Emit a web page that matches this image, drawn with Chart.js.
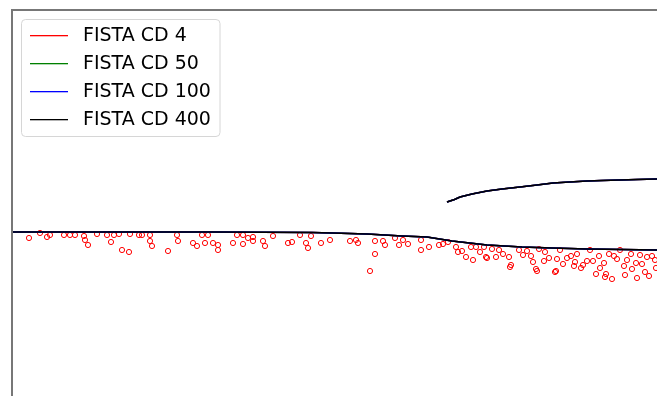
<!DOCTYPE html>
<html>
<head>
<meta charset="utf-8">
<script src="https://cdn.jsdelivr.net/npm/chart.js@4"></script>
<style>
  body { margin: 0; background: #fff; }
  canvas { display: block; }
</style>
</head>
<body>
<canvas id="fistaChart" width="657" height="396"></canvas>
<script>
// solver runs, one entry per number of CD iterations
const seriesNames = ['FISTA CD 4', 'FISTA CD 50', 'FISTA CD 100', 'FISTA CD 400'];
const seriesColors = ['#ff0000', '#008000', '#0000ff', '#000000'];

// lower branch of the solution path
const lowerX = [0, 20, 40, 60, 64, 71, 78, 83, 88, 95, 102, 108, 115, 122, 129];
const lowerY = [0, 0, 0, -0.05, -0.1, -0.2, -0.4, -0.5, -0.9, -1.3, -1.5, -1.6, -1.7, -1.75, -1.8];

// upper branch, appears past the split point
const upperX = [87, 88.5, 89.6, 92, 95, 98, 101.6, 105, 108.2, 111.5, 115, 118, 121.6, 125, 129];
const upperY = [3.0, 3.25, 3.5, 3.8, 4.1, 4.3, 4.5, 4.7, 4.9, 5.0, 5.1, 5.15, 5.2, 5.25, 5.3];

// small closed loops left by the 4-iteration run
const loopX = [3.4, 5.6, 7.0, 7.6, 10.4, 11.6, 12.6, 14.4, 14.6, 15.2, 17.0, 19.0, 19.8, 20.4, 21.4, 22.0, 23.4, 23.6, 25.4,
  26.0, 27.6, 27.6, 28.0, 31.2, 33.0, 33.2, 36.2, 37.0, 38.0, 38.6, 39.2, 40.2, 41.2, 41.2, 44.2, 45.0, 46.2, 46.2, 47.2, 48.2, 48.2, 50.2, 50.6,
  52.2, 55.2, 56.0, 57.6, 58.8, 59.2, 59.8, 61.8, 63.6, 67.6, 68.8, 69.2, 72.6, 72.6, 74.2, 74.6, 71.6, 76.6,
  77.4, 78.2, 79.2, 81.8, 81.8, 83.4, 85.4, 87.2, 88.8, 89.2, 90.8, 92.2, 91.8, 92.8, 94.8, 94.4, 96.8, 97.4, 98.2, 99.8, 99.4, 101.4,
  103.0, 103.8, 104.8, 105.4, 106.4, 108.8, 109.0, 111.0, 112.4, 113.0, 115.0, 116.8, 117.4, 118.4, 118.8, 120.0, 121.0, 122.4, 124.0, 125.0,
  126.0, 127.4, 128.0, 128.8, 120.4, 123.8, 113.8, 95.0, 99.6, 105.0, 108.6, 118.6,
  106.6, 109.6, 115.6, 121.6, 125.6, 117.6, 122.6, 112.6, 126.6, 128.6,
  102.2, 104.2, 107.4, 110.2, 111.8, 114.2, 116.2, 119.4, 123.0, 124.8, 127.0, 86.2, 90.0, 93.6, 96.0];
const loopY = [-0.6, -0.1, -0.5, -0.3, -0.3, -0.3, -0.3, -0.4, -0.8, -1.3, -0.2, -0.3, -1.0, -0.3, -0.2, -1.8, -2.0, -0.2, -0.3,
  -0.3, -0.3, -0.9, -1.4, -1.9, -0.3, -0.9, -1.1, -1.4, -0.3, -1.1, -0.3, -1.1, -1.3, -1.8, -1.1, -0.3, -0.3, -1.2, -0.6, -0.5, -0.9, -0.9, -1.4,
  -0.4, -1.1, -1.0, -0.3, -1.1, -1.6, -0.4, -1.1, -0.8, -0.9, -0.8, -1.1, -0.9, -2.2, -0.9, -1.3, -3.9, -0.6,
  -1.3, -0.8, -1.2, -0.8, -1.8, -1.5, -1.3, -1.0, -1.5, -2.0, -2.5, -2.8, -1.5, -1.5, -2.5, -1.5, -2.5, -1.8, -2.2, -3.3, -2.5, -1.8,
  -1.9, -2.4, -3.7, -1.7, -2.9, -3.9, -2.7, -2.6, -3.4, -2.2, -2.9, -4.2, -2.4, -3.1, -4.2, -4.7, -2.7, -3.4, -3.7, -4.6,
  -3.2, -4.4, -2.4, -3.6, -2.4, -2.2, -3.6, -2.6, -3.5, -3.9, -4.0, -4.5,
  -2.0, -1.8, -1.8, -1.8, -2.3, -3.6, -4.3, -3.0, -4.0, -2.8,
  -2.3, -3.0, -2.6, -3.2, -2.4, -3.3, -2.9, -2.2, -2.8, -3.1, -2.5, -1.2, -1.9, -2.0, -1.7];

function toPoints(xs, ys) {
  return xs.map((x, i) => ({ x: x, y: ys[i] }));
}

// both branches in one dataset, split by a gap
const pathPoints = toPoints(lowerX, lowerY)
  .concat([{ x: 129, y: null }])
  .concat(toPoints(upperX, upperY));

// loops go under everything; later runs are drawn over earlier ones
const datasets = [{
  label: '',
  data: toPoints(loopX, loopY),
  showLine: false,
  pointStyle: 'circle',
  pointRadius: 2.6,
  pointBorderWidth: 1,
  pointBorderColor: seriesColors[0],
  pointBackgroundColor: 'rgba(0,0,0,0)',
  order: 10
}];
seriesNames.forEach((name, i) => {
  datasets.push({
    label: name,
    data: pathPoints,
    showLine: true,
    spanGaps: false,
    borderColor: seriesColors[i],
    borderWidth: 1.6,
    pointRadius: 0,
    order: seriesNames.length - i
  });
});

// left and top axis lines only
const spines = {
  id: 'spines',
  afterDraw(chart) {
    const ctx = chart.ctx;
    const a = chart.chartArea;
    ctx.save();
    ctx.strokeStyle = '#777777';
    ctx.lineWidth = 2;
    ctx.beginPath();
    ctx.moveTo(a.left, a.top - 1);
    ctx.lineTo(a.left, chart.height);
    ctx.moveTo(a.left - 1, a.top);
    ctx.lineTo(chart.width, a.top);
    ctx.stroke();
    ctx.restore();
  }
};

// boxed legend in the upper left corner
const boxLegend = {
  id: 'boxLegend',
  afterDraw(chart) {
    const ctx = chart.ctx;
    ctx.save();
    ctx.beginPath();
    ctx.roundRect(21.5, 19.5, 198.5, 117, 4);
    ctx.fillStyle = 'rgba(255,255,255,0.8)';
    ctx.fill();
    ctx.strokeStyle = '#d6d6d6';
    ctx.lineWidth = 1;
    ctx.stroke();
    ctx.font = '19px "DejaVu Sans"';
    ctx.textBaseline = 'middle';
    seriesNames.forEach((name, i) => {
      const y = 35 + i * 28;
      ctx.fillStyle = seriesColors[i];
      ctx.fillRect(30, y, 38, 1.3);
      ctx.fillStyle = '#000000';
      ctx.fillText(name, 83, y + 1);
    });
    ctx.restore();
  }
};

new Chart(document.getElementById('fistaChart'), {
  type: 'scatter',
  data: { datasets: datasets },
  options: {
    responsive: false,
    animation: false,
    layout: { autoPadding: false, padding: { left: 12, top: 10, right: 0, bottom: 0 } },
    scales: {
      x: { type: 'linear', min: 0, max: 129, display: false },
      y: { type: 'linear', min: -16.4, max: 22.2, display: false }
    },
    plugins: {
      legend: { display: false },
      tooltip: { enabled: false }
    }
  },
  plugins: [spines, boxLegend]
});
</script>
</body>
</html>
